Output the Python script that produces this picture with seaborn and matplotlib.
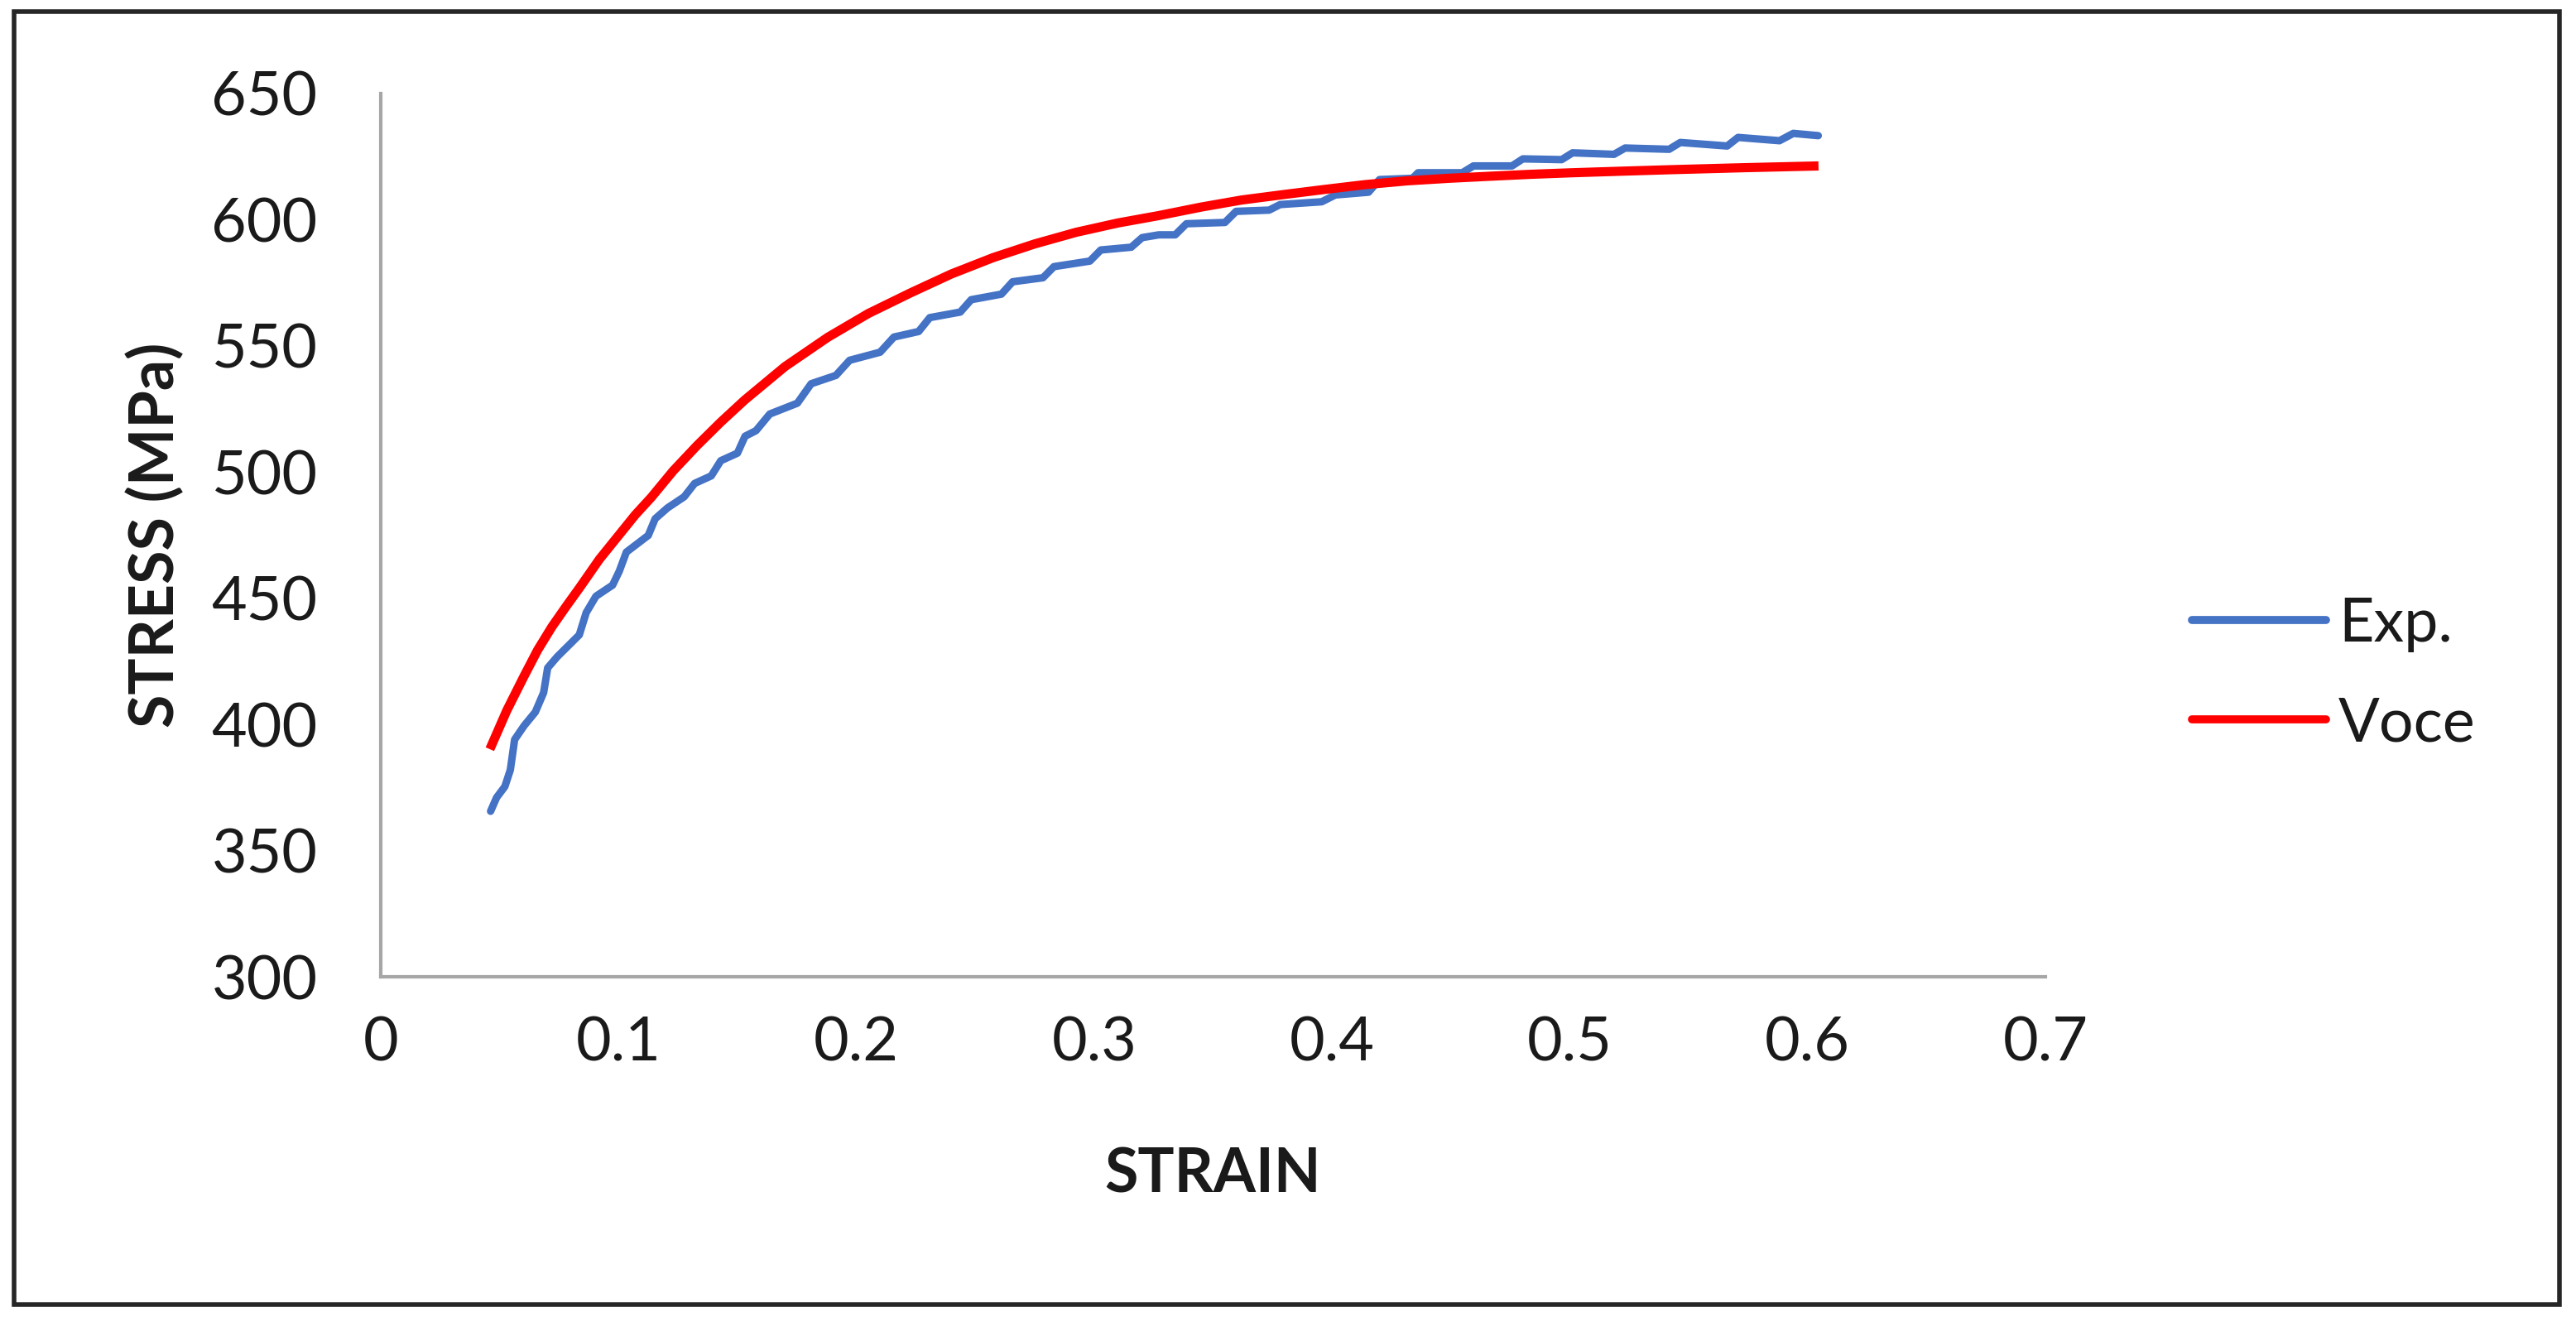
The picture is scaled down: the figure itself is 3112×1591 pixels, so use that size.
import numpy as np
import pandas as pd
import seaborn as sns
import matplotlib.pyplot as plt
from matplotlib.patches import Rectangle
from matplotlib.lines import Line2D

exp_strain = [0.0462, 0.0487, 0.0522, 0.0545, 0.0563, 0.0603, 0.0650, 0.0685, 0.0702, 0.0742,
              0.0835, 0.0864, 0.0905, 0.0975, 0.1003, 0.1033, 0.1125, 0.1154, 0.1206, 0.1276,
              0.1320, 0.1390, 0.1430, 0.1500, 0.1532, 0.1578, 0.1636, 0.1752, 0.1810, 0.1914,
              0.1972, 0.2100, 0.2158, 0.2262, 0.2309, 0.2437, 0.2483, 0.2610, 0.2657, 0.2785,
              0.2831, 0.2982, 0.3028, 0.3156, 0.3202, 0.3272, 0.3341, 0.3388, 0.3550, 0.3597,
              0.3736, 0.3782, 0.3957, 0.4014, 0.4154, 0.4200, 0.4339, 0.4362, 0.4548, 0.4595,
              0.4757, 0.4803, 0.4966, 0.5012, 0.5186, 0.5233, 0.5418, 0.5465, 0.5662, 0.5708,
              0.5882, 0.5940, 0.6045]
exp_stress = [365.6, 371.0, 375.4, 382.0, 394.0, 399.5, 404.9, 412.6, 422.4, 426.8,
              435.5, 444.3, 450.8, 455.2, 460.7, 468.3, 474.9, 481.5, 485.8, 490.2,
              495.5, 498.5, 504.5, 507.5, 514.2, 516.4, 523.0, 527.3, 535.0, 538.3,
              544.3, 547.5, 553.5, 555.7, 561.2, 563.4, 568.3, 570.5, 575.4, 577.0,
              581.4, 583.6, 588.0, 589.1, 592.9, 594.0, 594.0, 598.4, 598.9, 603.3,
              603.8, 606.0, 607.1, 609.8, 610.9, 615.9, 616.4, 618.6, 618.6, 621.3,
              621.3, 624.1, 623.8, 626.5, 625.9, 628.4, 627.9, 630.6, 629.2, 632.6,
              631.3, 634.2, 633.3]

# Voce fit curve
voce_strain = [0.0459, 0.0530, 0.0602, 0.0660, 0.0720, 0.0780, 0.0835, 0.0920, 0.1010, 0.1070,
               0.1138, 0.1230, 0.1330, 0.1430, 0.1530, 0.1700, 0.1880, 0.2050, 0.2228, 0.2400,
               0.2576, 0.2750, 0.2924, 0.3100, 0.3270, 0.3450, 0.3620, 0.3800, 0.3970, 0.4140,
               0.4316, 0.4490, 0.4660, 0.4840, 0.5010, 0.5210, 0.5420, 0.5730, 0.6046]
voce_stress = [390.2, 405.5, 419.0, 429.5, 438.7, 446.8, 454.0, 465.5, 476.0, 483.0,
               490.0, 500.5, 510.5, 519.8, 528.5, 541.8, 553.4, 562.8, 571.0, 578.5,
               585.0, 590.4, 595.0, 598.7, 601.6, 605.0, 607.8, 610.0, 612.0, 613.9,
               615.4, 616.4, 617.2, 618.0, 618.6, 619.2, 619.8, 620.6, 621.3]

series_names = ["Exp.", "Voce"]
series_colors = ["#4472C4", "#FF0000"]
x_ticks = [0, 0.1, 0.2, 0.3, 0.4, 0.5, 0.6, 0.7]
x_tick_labels = ["0", "0.1", "0.2", "0.3", "0.4", "0.5", "0.6", "0.7"]
y_ticks = [300, 350, 400, 450, 500, 550, 600, 650]

sns.set_theme(style="white")
plt.rcParams["font.family"] = ["Lato", "DejaVu Sans"]

exp_df = pd.DataFrame({"strain": exp_strain, "stress": exp_stress})
voce_df = pd.DataFrame({"strain": voce_strain, "stress": voce_stress})

fig = plt.figure(figsize=(31.12, 15.91), dpi=100)
ax = fig.add_axes([0.1478, 0.2583, 0.6462, 0.6707])

sns.lineplot(data=exp_df, x="strain", y="stress", ax=ax, color=series_colors[0],
             linewidth=6.5, estimator=None, sort=False, solid_capstyle="round",
             solid_joinstyle="round")
sns.lineplot(data=voce_df, x="strain", y="stress", ax=ax, color=series_colors[1],
             linewidth=8, estimator=None, sort=False, solid_capstyle="butt",
             solid_joinstyle="round")

ax.set_xlim(0, 0.7)
ax.set_ylim(300, 650)
ax.set_xticks(x_ticks)
ax.set_xticklabels(x_tick_labels)
ax.set_yticks(y_ticks)

for side in ["top", "right"]:
    ax.spines[side].set_visible(False)
for side in ["left", "bottom"]:
    ax.spines[side].set_color("#a6a6a6")
    ax.spines[side].set_linewidth(3)

ax.tick_params(axis="both", length=0, labelsize=53, labelcolor="#1a1a1a")
ax.tick_params(axis="y", pad=55)
ax.tick_params(axis="x", pad=34)

ax.set_xlabel("STRAIN", fontsize=53, fontweight="bold", color="#1a1a1a", va="center")
ax.set_ylabel("STRESS (MPa)", fontsize=53, fontweight="bold", color="#1a1a1a", va="center")
ax.xaxis.set_label_coords(0.5, -0.224)
ax.yaxis.set_label_coords(-0.1352, 0.5)

handles = [Line2D([0], [0], color=c, lw=7) for c in series_colors]
fig.legend(handles, series_names, loc="center left", bbox_to_anchor=(0.851, 0.488),
           frameon=False, fontsize=53, handlelength=2.2, handletextpad=0.2,
           labelspacing=0.72, borderpad=0, borderaxespad=0, labelcolor="#1a1a1a")

# outer frame around the whole chart
fig.patches.append(Rectangle((0.0055, 0.0095), 0.9880, 0.9820, transform=fig.transFigure,
                             fill=False, edgecolor="#262626", linewidth=4))

fig.savefig("out.png", dpi=100, facecolor="white")
